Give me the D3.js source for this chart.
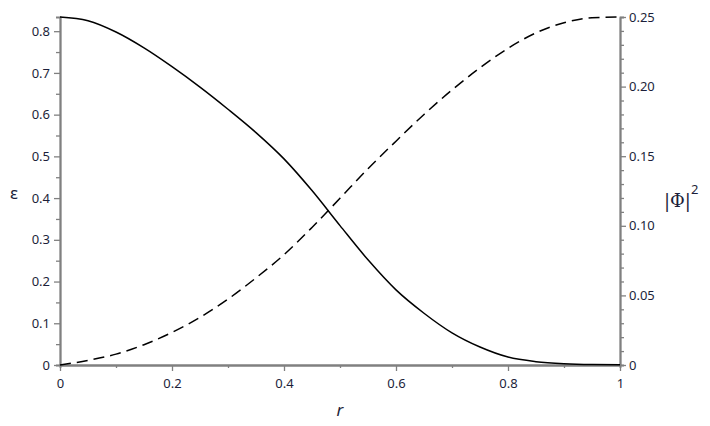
<!DOCTYPE html>
<html>
<head>
<meta charset="utf-8">
<script src="https://cdn.jsdelivr.net/npm/d3@7"></script>
<style>
  body { margin: 0; background: #fff; }
  .tick text { font-family: "Noto Sans", sans-serif; font-size: 13px; fill: #1c1f3a; }
  .axis path, .axis line { stroke: #808080; }
</style>
</head>
<body>
<div id="chart"></div>
<script>
// values
const rValues = [0, 0.05, 0.1, 0.15, 0.2, 0.25, 0.3, 0.35, 0.4, 0.45, 0.5,
    0.55, 0.6, 0.65, 0.7, 0.75, 0.8, 0.85, 0.9, 0.95, 1]
const epsilon = [0.834, 0.825, 0.798, 0.760, 0.715, 0.666, 0.613, 0.557, 0.494, 0.418, 0.334,
    0.252, 0.180, 0.124, 0.077, 0.043, 0.019, 0.008, 0.003, 0.001, 0.0005]
const phiSq = [0, 0.0033, 0.0078, 0.0146, 0.0234, 0.0342, 0.0473, 0.0626, 0.0792, 0.0988, 0.1198,
    0.141, 0.1608, 0.180, 0.1976, 0.2135, 0.2275, 0.2386, 0.2459, 0.2495, 0.25]
const xTicks = [0, 0.2, 0.4, 0.6, 0.8, 1]
const leftTicks = [0, 0.1, 0.2, 0.3, 0.4, 0.5, 0.6, 0.7, 0.8]
const rightTicks = [0, 0.05, 0.10, 0.15, 0.20, 0.25]

const margin = { top: 17, right: 90, bottom: 61, left: 60 }
const width = 710 - margin.left - margin.right,
    height = 426 - margin.top - margin.bottom

const xS = d3.scaleLinear().domain([0, 1]).range([0, width])
const yL = d3.scaleLinear().domain([0, 0.834]).range([height, 0])
const yR = d3.scaleLinear().domain([0, 0.25]).range([height, 0])

const svg = d3.select('#chart')
    .append('svg')
    .attr('width', 710)
    .attr('height', 426)
const graph = svg.append('g')
    .attr('transform', 'translate(' + margin.left + ', ' + margin.top + ')')

const fmtR = d => d === 0 ? '0' : d3.format('.2f')(d)
const fmtX = d => d === 0 || d === 1 ? String(d) : d3.format('.1f')(d)

// minor ticks
const minorX = d3.range(0.1, 1, 0.2)
const minorL = d3.range(0.05, 0.834, 0.1)
const minorR = d3.range(0, 0.25, 0.01).filter(v => Math.round(v * 100) % 5 !== 0)

graph.append('g').classed('axis', true)
    .attr('transform', 'translate(0, ' + height + ')')
    .call(d3.axisBottom(xS).tickValues(minorX).tickSize(3).tickFormat(''))
graph.append('g').classed('axis', true)
    .call(d3.axisLeft(yL).tickValues(minorL).tickSize(4).tickFormat(''))
graph.append('g').classed('axis', true)
    .attr('transform', 'translate(' + width + ', 0)')
    .call(d3.axisRight(yR).tickValues(minorR).tickSize(4).tickFormat(''))

graph.append('g').classed('axis', true)
    .attr('transform', 'translate(0, ' + height + ')')
    .call(d3.axisBottom(xS).tickValues(xTicks).tickSize(6).tickSizeOuter(0)
        .tickPadding(8).tickFormat(fmtX))
graph.append('g').classed('axis', true)
    .call(d3.axisLeft(yL).tickValues(leftTicks).tickSize(6).tickSizeOuter(0)
        .tickPadding(4).tickFormat(fmtX))
graph.append('g').classed('axis', true)
    .attr('transform', 'translate(' + width + ', 0)')
    .call(d3.axisRight(yR).tickValues(rightTicks).tickSize(6).tickSizeOuter(0)
        .tickPadding(3).tickFormat(fmtR))

svg.selectAll('.axis path').attr('stroke-width', 1.8)
svg.selectAll('.axis line').attr('stroke-width', 1.3)

const lineEps = d3.line()
    .x((d, i) => xS(rValues[i]))
    .y(d => yL(d))
    .curve(d3.curveMonotoneX)
const linePhi = d3.line()
    .x((d, i) => xS(rValues[i]))
    .y(d => yR(d))
    .curve(d3.curveMonotoneX)

graph.append('path')
    .datum(epsilon)
    .attr('d', lineEps)
    .attr('fill', 'none')
    .attr('stroke', '#000')
    .attr('stroke-width', 1.5)
graph.append('path')
    .datum(phiSq)
    .attr('d', linePhi)
    .attr('fill', 'none')
    .attr('stroke', '#000')
    .attr('stroke-width', 1.5)
    .attr('stroke-dasharray', '11,6')

// axis titles
svg.append('text')
    .attr('x', 340).attr('y', 416)
    .attr('text-anchor', 'middle')
    .style('font-family', '"Noto Sans", sans-serif')
    .style('font-size', '17px')
    .style('font-style', 'italic')
    .style('fill', '#1c1f3a')
    .text('r')
svg.append('text')
    .attr('x', 14).attr('y', 199)
    .attr('text-anchor', 'middle')
    .style('font-family', '"Noto Sans", sans-serif')
    .style('font-size', '17px')
    .style('fill', '#1c1f3a')
    .text('ε')
const phiLabel = svg.append('text')
    .attr('x', 664).attr('y', 207)
    .style('font-family', '"DejaVu Serif", serif')
    .style('font-size', '18px')
    .style('fill', '#1c1f3a')
phiLabel.append('tspan').text('|Φ|')
phiLabel.append('tspan')
    .attr('dy', -13)
    .style('font-family', '"Noto Sans", sans-serif')
    .style('font-size', '13px')
    .text('2')
</script>
</body>
</html>
